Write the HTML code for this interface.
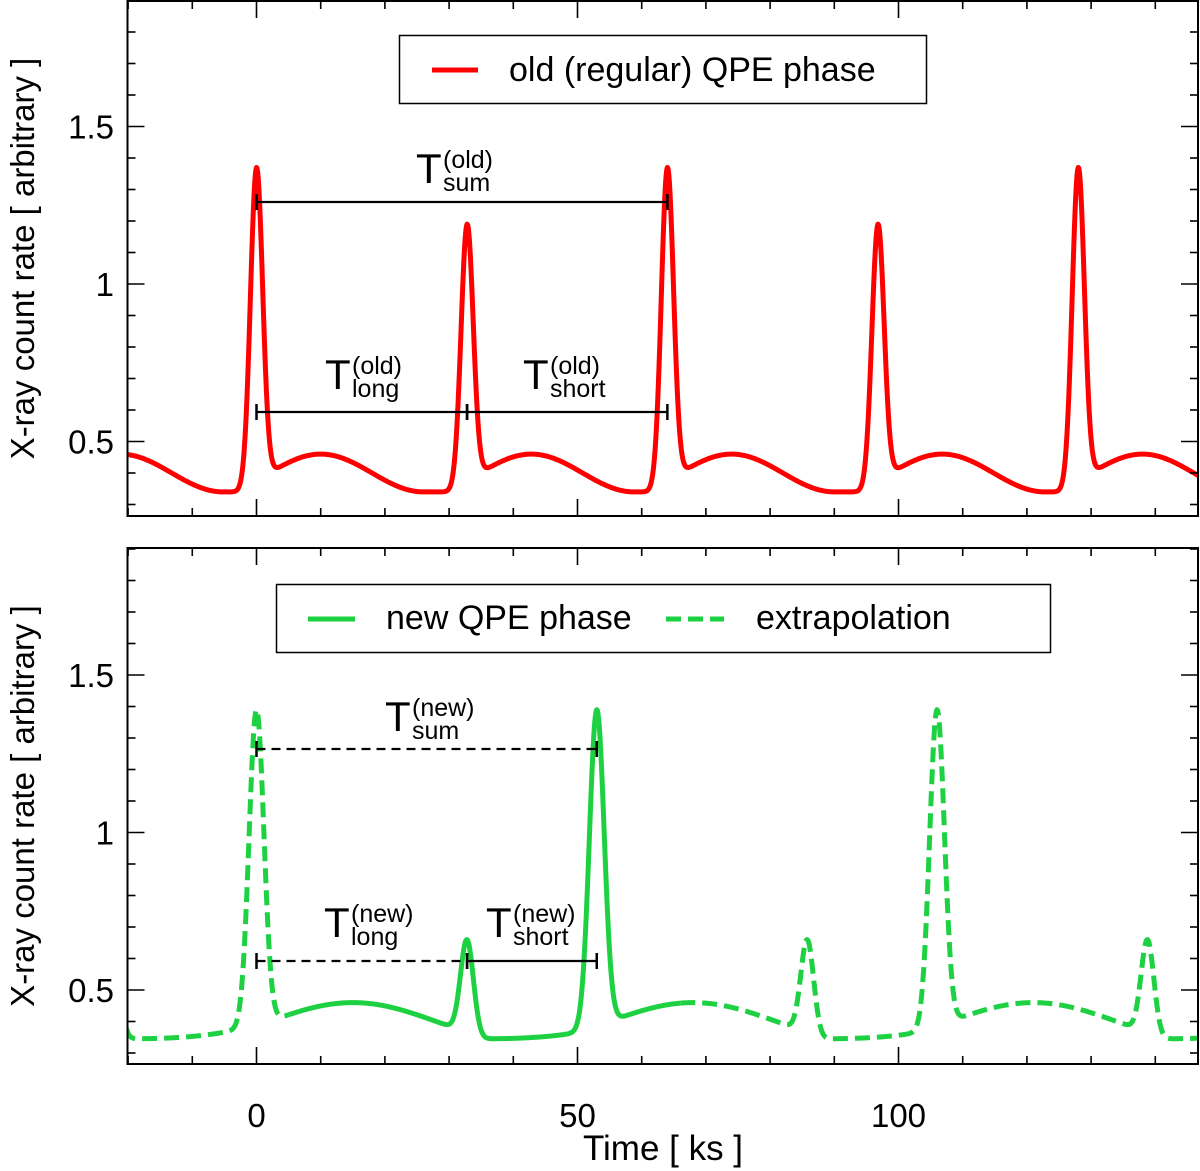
<!DOCTYPE html>
<html><head><meta charset="utf-8"><style>
html,body{margin:0;padding:0;background:#fff;}
svg{display:block;font-family:"Liberation Sans",Arial,sans-serif;}
</style></head><body>
<svg id="chart" width="1200" height="1171" viewBox="0 0 1200 1171" xmlns="http://www.w3.org/2000/svg">
<g id="top"></g>
<g id="bot"></g>
</svg>
<script>
// ---- data ----
const xTicksMajor = [0, 50, 100];
const xTickLabels = ["0", "50", "100"];
const yTicksMajor = [0.5, 1, 1.5];
const yTickLabels = ["0.5", "1", "1.5"];
// old phase flares
const oldFlareTimes = [-31.2, 0, 32.8, 64, 96.8, 128];
const oldFlarePeaks = [1.19, 1.37, 1.19, 1.37, 1.19, 1.37];
const oldFlareWidths = [0.95, 0.95, 0.95, 0.95, 0.95, 0.95];
// new phase flares
const newFlareTimes = [-22.4, 0, 32.8, 53, 85.8, 106, 138.8];
const newFlarePeaks = [0.66, 1.39, 0.66, 1.39, 0.66, 1.39, 0.66];
const newFlareWidths = [1.0, 1.15, 1.0, 1.15, 1.0, 1.15, 1.0];
const newSolidRange = [5, 66];

const NS = "http://www.w3.org/2000/svg";
const X0 = 127.5, X1 = 1198;
const tMin = -20.3, tMax = 147;
function xs(t){ return 256.5 + t * 6.42; }
const panels = {
  top: {y0: 1, y1: 516, base: 441.5},
  bot: {y0: 548, y1: 1064, base: 990}
};
function ysF(p){ return v => p.base - (v - 0.5) * 315; }

function mk(parent, tag, attrs){
  const e = document.createElementNS(NS, tag);
  for (const k in attrs) e.setAttribute(k, attrs[k]);
  parent.appendChild(e);
  return e;
}

// baseline models
function oldBase(s){
  const u = Math.min(s - 2, 24);
  return 0.40 + 0.06 * Math.sin(2 * Math.PI * u / 32);
}
function newBaseLong(s){ return 0.40 + 0.06 * Math.sin(2 * Math.PI * (s - 2) / 52); }
function newBaseShort(s){ return 0.345 + 0.032 * Math.pow(Math.max(s, 0) / 20, 3); }

function segBase(i, t, times, peaks, baseFn){
  return baseFn(i, t - times[i], times, peaks);
}
function baseAt(t, times, peaks, baseFn){
  let i = 0;
  for (let k = 0; k < times.length; k++) if (times[k] <= t) i = k;
  let b = segBase(i, t, times, peaks, baseFn);
  if (i + 1 < times.length && times[i+1] - t < 3){
    const w = 1 / (1 + Math.exp(-(t - times[i+1]) / 0.6));
    b = b * (1 - w) + segBase(i+1, t, times, peaks, baseFn) * w;
  }
  if (i > 0 && t - times[i] < 3){
    const w = 1 / (1 + Math.exp(-(t - times[i]) / 0.6));
    b = segBase(i-1, t, times, peaks, baseFn) * (1 - w) + b * w;
  }
  return b;
}
function curve(t, times, peaks, widths, baseFn){
  let v = baseAt(t, times, peaks, baseFn);
  for (let k = 0; k < times.length; k++){
    const amp = peaks[k] - baseAt(times[k], times, peaks, baseFn);
    const d = (t - times[k]) / widths[k];
    v += amp * Math.exp(-0.5 * d * d);
  }
  return v;
}
function oldBaseFn(i, s){ return oldBase(s); }
function newBaseFn(i, s, times, peaks){
  return peaks[i] > 1 ? newBaseLong(s) : newBaseShort(s);
}

function axes(g, p, key){
  const ys = ysF(p);
  mk(g, "rect", {x: X0, y: p.y0, width: X1 - X0, height: p.y1 - p.y0, fill: "none", stroke: "#000", "stroke-width": 2,  });
  for (let t = -20; t <= 140; t += 10){
    const major = t % 50 === 0;
    const L = major ? 17 : 8;
    const x = xs(t);
    mk(g, "line", {x1: x, x2: x, y1: p.y1, y2: p.y1 - L, stroke: "#000", "stroke-width": 1.6});
    mk(g, "line", {x1: x, x2: x, y1: p.y0, y2: p.y0 + L, stroke: "#000", "stroke-width": 1.6});
  }
  for (let v = 0.3; v <= 1.9001; v += 0.1){
    const vv = Math.round(v * 10) / 10;
    const major = Math.abs(vv * 2 - Math.round(vv * 2)) < 1e-6;
    const L = major ? 17 : 8;
    const y = ys(vv);
    mk(g, "line", {x1: X0, x2: X0 + L, y1: y, y2: y, stroke: "#000", "stroke-width": 1.6});
    mk(g, "line", {x1: X1, x2: X1 - L, y1: y, y2: y, stroke: "#000", "stroke-width": 1.6});
  }
  yTicksMajor.forEach((v, i) => {
    const e = mk(g, "text", {x: 114, y: ys(v) + 12, "text-anchor": "end", "font-size": 33});
    
    
    e.textContent = yTickLabels[i];
  });
  const cy = (p.y0 + p.y1) / 2;
  const yt = mk(g, "text", {x: 0, y: 0, "text-anchor": "middle", "font-size": 33, transform: `translate(34,${cy}) rotate(-90)`});
  
  
  yt.textContent = "X-ray count rate [ arbitrary ]";
}

function drawCurve(g, p, times, peaks, widths, baseFn, color, solidRange, name){
  const ys = ysF(p);
  const pts = [];
  for (let t = tMin; t <= tMax + 0.001; t += 0.1){
    pts.push([t, curve(t, times, peaks, widths, baseFn)]);
  }
  const clip = "clip-" + name;
  const cp = mk(g, "clipPath", {id: clip});
  mk(cp, "rect", {x: X0, y: p.y0, width: X1 - X0, height: p.y1 - p.y0});
  const segs = solidRange ? [
    {f: q => q[0] <= solidRange[0] + 0.05, dash: true},
    {f: q => q[0] >= solidRange[0] - 0.05 && q[0] <= solidRange[1] + 0.05, dash: false},
    {f: q => q[0] >= solidRange[1] - 0.05, dash: true}
  ] : [{f: q => true, dash: false}];
  segs.forEach((s, i) => {
    const d = pts.filter(s.f).map((q, j) => (j ? "L" : "M") + xs(q[0]).toFixed(2) + "," + ys(q[1]).toFixed(2)).join("");
    const a = {d: d, fill: "none", stroke: color, "stroke-width": 5, "stroke-linejoin": "round", "clip-path": `url(#${clip})`};
    if (s.dash) a["stroke-dasharray"] = "15 7";
    const e = mk(g, "path", a);
    
    
  });
}

function interval(g, y, t0, t1, dashed, name){
  const e = mk(g, "line", {x1: xs(t0), x2: xs(t1), y1: y, y2: y, stroke: "#000", "stroke-width": 2.2});
  if (dashed) e.setAttribute("stroke-dasharray", "9 6");
  
  
  [t0, t1].forEach(t => mk(g, "line", {x1: xs(t), x2: xs(t), y1: y - 8, y2: y + 8, stroke: "#000", "stroke-width": 2.5}));
}
function tlabel(g, x, y, sup, sub, name){
  const e = mk(g, "g", {});
  
  
  const a = mk(e, "text", {x: x, y: y, "font-size": 42}); a.textContent = "T";
  const b = mk(e, "text", {x: x + 27, y: y - 15, "font-size": 25}); b.textContent = sup;
  const c = mk(e, "text", {x: x + 27, y: y + 8, "font-size": 25}); c.textContent = sub;
}

// ---- top ----
const gt = document.getElementById("top");
drawCurve(gt, panels.top, oldFlareTimes, oldFlarePeaks, oldFlareWidths, oldBaseFn, "#ff0000", null, "old-phase");
axes(gt, panels.top, "top");
interval(gt, 202, 0, 64, false, "t-sum-old-bar");
interval(gt, 412, 0, 32.8, false, "t-long-old-bar");
interval(gt, 412, 32.8, 64, false, "t-short-old-bar");
tlabel(gt, 416, 183, "(old)", "sum", "t-sum-old-label");
tlabel(gt, 325, 389, "(old)", "long", "t-long-old-label");
tlabel(gt, 523, 389, "(old)", "short", "t-short-old-label");
const lg1 = mk(gt, "g", {});  
mk(lg1, "rect", {x: 399.5, y: 35.5, width: 527, height: 68, fill: "#fff", stroke: "#000", "stroke-width": 1.5});
mk(lg1, "line", {x1: 432, x2: 478, y1: 70, y2: 70, stroke: "#ff0000", "stroke-width": 5});
const lt1 = mk(lg1, "text", {x: 509, y: 81, "font-size": 34}); lt1.textContent = "old (regular) QPE phase";

// ---- bottom ----
const gb = document.getElementById("bot");
drawCurve(gb, panels.bot, newFlareTimes, newFlarePeaks, newFlareWidths, newBaseFn, "#1ed142", newSolidRange, "new-phase");
axes(gb, panels.bot, "bottom");
interval(gb, 749, 0, 53, true, "t-sum-new-bar");
interval(gb, 961, 0, 32.8, true, "t-long-new-bar");
interval(gb, 961, 32.8, 53, false, "t-short-new-bar");
tlabel(gb, 385, 731, "(new)", "sum", "t-sum-new-label");
tlabel(gb, 324, 937, "(new)", "long", "t-long-new-label");
tlabel(gb, 486, 937, "(new)", "short", "t-short-new-label");
const lg2 = mk(gb, "g", {});  
mk(lg2, "rect", {x: 276.5, y: 584.5, width: 774, height: 68, fill: "#fff", stroke: "#000", "stroke-width": 1.5});
mk(lg2, "line", {x1: 308, x2: 355, y1: 619, y2: 619, stroke: "#1ed142", "stroke-width": 5});
const lt2 = mk(lg2, "text", {x: 386, y: 629, "font-size": 34}); lt2.textContent = "new QPE phase";
mk(lg2, "line", {x1: 666, x2: 724, y1: 619, y2: 619, stroke: "#1ed142", "stroke-width": 5, "stroke-dasharray": "15 7"});
const lt3 = mk(lg2, "text", {x: 756, y: 629, "font-size": 34}); lt3.textContent = "extrapolation";

xTicksMajor.forEach((t, i) => {
  const e = mk(gb, "text", {x: xs(t), y: 1127, "text-anchor": "middle", "font-size": 33});
  
  
  e.textContent = xTickLabels[i];
});
const xt = mk(gb, "text", {x: 663, y: 1160, "text-anchor": "middle", "font-size": 35});


xt.textContent = "Time [ ks ]";
</script>
</body></html>
